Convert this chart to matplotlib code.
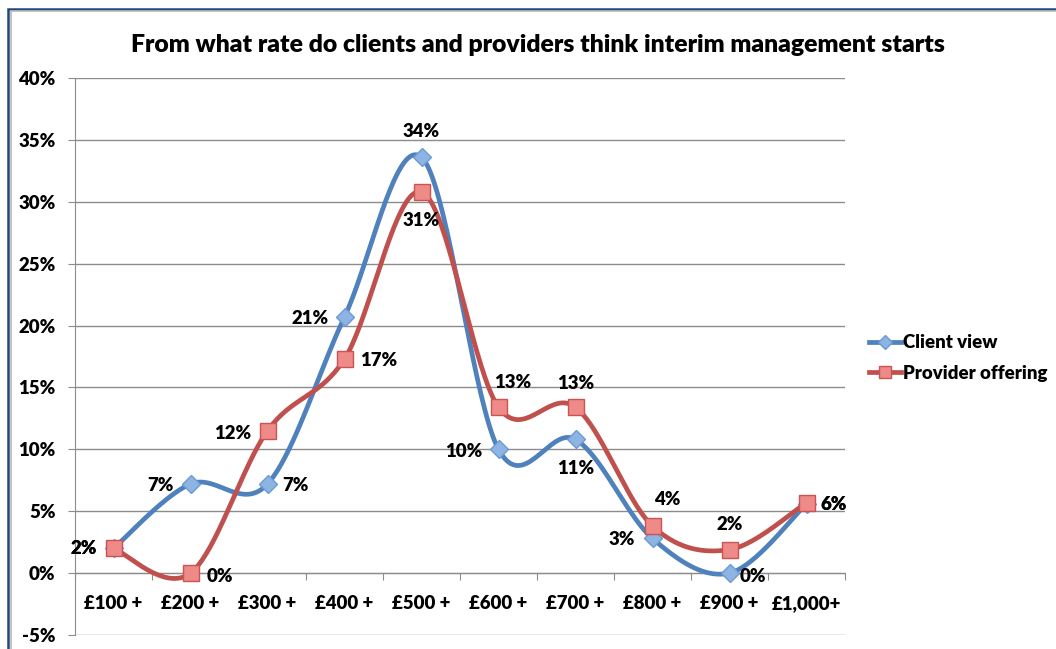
import numpy as np
import matplotlib.pyplot as plt
from matplotlib.lines import Line2D
from matplotlib.patches import Rectangle

categories = ['£100 +', '£200 +', '£300 +', '£400 +', '£500 +',
              '£600 +', '£700 +', '£800 +', '£900 +', '£1,000+']
client_view = [2.0, 7.2, 7.2, 20.7, 33.6, 10.0, 10.8, 2.8, 0.0, 5.6]
provider_offering = [2.0, 0.0, 11.5, 17.3, 30.8, 13.4, 13.4, 3.8, 1.9, 5.7]

# label offsets in pixels (dx, dy)
client_lbl = [(-30, 0), (-30, -2), (28, -2), (-34, -2), (0, 26),
              (-35, -2), (0, -29), (-31, -1), (23, -3), (27, -1)]
provider_lbl = [(-30, 0), (29, -3), (-35, -3), (34, -2), (0, -29),
                (14, 25), (0, 24), (15, 27), (0, 25), (27, -2)]

plt.rcParams['font.family'] = ['Lato', 'DejaVu Sans']
plt.rcParams['font.weight'] = 'heavy'

BLUE = '#4F81BD'
RED = '#C0504D'
GRID = '#8C8C8C'
FS = 13.4
W = 'heavy'


def smooth(y, n=40):
    # Excel-style smoothed line: cubic bezier, control points 1/6 of neighbours
    x = np.arange(len(y), dtype=float)
    y = np.asarray(y, dtype=float)
    px = np.concatenate([[x[0]], x, [x[-1]]])
    py = np.concatenate([[y[0]], y, [y[-1]]])
    xs, ys = [], []
    t = np.linspace(0, 1, n)
    for i in range(1, len(px) - 2):
        p0 = np.array([px[i], py[i]])
        p3 = np.array([px[i + 1], py[i + 1]])
        c1 = p0 + (np.array([px[i + 1], py[i + 1]]) - np.array([px[i - 1], py[i - 1]])) / 6
        c2 = p3 - (np.array([px[i + 2], py[i + 2]]) - np.array([px[i], py[i]])) / 6
        b = ((1 - t) ** 3)[:, None] * p0 + (3 * (1 - t) ** 2 * t)[:, None] * c1 \
            + (3 * (1 - t) * t ** 2)[:, None] * c2 + (t ** 3)[:, None] * p3
        xs.append(b[:, 0])
        ys.append(b[:, 1])
    return np.concatenate(xs), np.concatenate(ys)


fig = plt.figure(figsize=(10.56, 6.49), dpi=100)
ax = fig.add_axes([75 / 1056, 1 - 635 / 649, 770 / 1056, 557 / 649])

x = np.arange(len(categories))
ax.set_xlim(-0.5, 9.5)
ax.set_ylim(-5, 40)
ax.set_yticks(np.arange(-5, 41, 5))
ax.set_yticklabels([f'{v}%' for v in range(-5, 41, 5)], fontsize=FS, fontweight=W)
ax.grid(axis='y', color=GRID, linewidth=1)
ax.set_axisbelow(True)

for s in ['top', 'right']:
    ax.spines[s].set_visible(False)
ax.spines['left'].set_color(GRID)
ax.spines['bottom'].set_position(('data', 0))
ax.spines['bottom'].set_color(GRID)
ax.tick_params(axis='y', length=5, color=GRID, pad=9)

ax.set_xticks(np.arange(-0.5, 10, 1))
ax.set_xticklabels([])
ax.tick_params(axis='x', which='major', length=5, color=GRID)
ax.set_xticks(x, minor=True)
ax.set_xticklabels(categories, minor=True, fontsize=FS, fontweight=W)
ax.tick_params(axis='x', which='minor', length=0, pad=16)

sx, sy = smooth(client_view)
ax.plot(sx, sy, color=BLUE, lw=3.4, solid_capstyle='round', zorder=3)
sx, sy = smooth(provider_offering)
ax.plot(sx, sy, color=RED, lw=3.4, solid_capstyle='round', zorder=3)
ax.plot(x, client_view, ls='none', marker='D', ms=9.5, mfc='#8DB4E2', mec='#6A9BD4',
        mew=1, zorder=4, clip_on=False)
ax.plot(x, provider_offering, ls='none', marker='s', ms=11, mfc='#EE8A87', mec='#C95450',
        mew=1, zorder=5, clip_on=False)

for i, v in enumerate(client_view):
    ax.annotate(f'{round(v):.0f}%', (i, v), xytext=client_lbl[i], textcoords='offset pixels',
                ha='center', va='center', fontsize=FS, fontweight=W, zorder=6)
for i, v in enumerate(provider_offering):
    ax.annotate(f'{round(v):.0f}%', (i, v), xytext=provider_lbl[i], textcoords='offset pixels',
                ha='center', va='center', fontsize=FS, fontweight=W, zorder=6)

fig.text(538 / 1056, 1 - 45 / 649, 'From what rate do clients and providers think interim management starts',
         ha='center', va='center', fontsize=17.8, fontweight=W)

handles = [Line2D([], [], color=BLUE, lw=3.4, marker='D', ms=7, mfc='#8DB4E2', mec='#6A9BD4'),
           Line2D([], [], color=RED, lw=3.4, marker='s', ms=9, mfc='#EE8A87', mec='#C95450')]
fig.legend(handles, ['Client view', 'Provider offering'], loc='center left',
           bbox_to_anchor=(852 / 1056, 1 - 358 / 649), frameon=False, fontsize=FS,
           handlelength=1.75, handletextpad=0.1, labelspacing=0.75, numpoints=1)

# chart frame (cut off at right and bottom)
fig.add_artist(Rectangle((8 / 1056, -0.1), 1.2, 1 - 9 / 649 + 0.1, transform=fig.transFigure,
                         fill=False, edgecolor='#1F497D', lw=1.8))
fig.add_artist(Rectangle((10.5 / 1056, -0.1), 1.2, 1 - 11.5 / 649 + 0.1, transform=fig.transFigure,
                         fill=False, edgecolor='#B8B8B8', lw=1.2))

fig.savefig('out.png', dpi=100)
